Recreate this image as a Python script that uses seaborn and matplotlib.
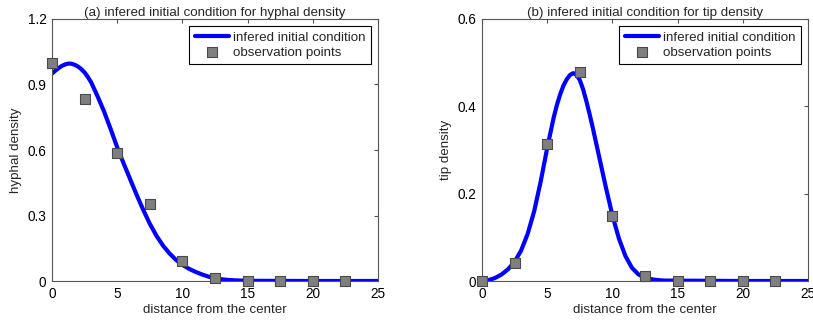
import matplotlib
matplotlib.use("Agg")
import matplotlib.pyplot as plt
import pandas as pd
import seaborn as sns

# Fitted hyphal-density profile (denser sampling around the maximum)
hyphal_curve_x = [0, 0.25, 0.5, 0.75, 1, 1.25, 1.5, 1.75, 2, 2.25, 2.5, 2.75, 3,
                  3.5, 4, 4.5, 5, 5.5, 6, 6.5, 7, 7.5, 8, 8.5, 9, 9.5, 10, 10.5,
                  11, 11.5, 12, 12.5, 13, 13.5, 14, 14.5, 15, 20, 25]
hyphal_curve = [0.950, 0.963, 0.975, 0.985, 0.992, 0.996, 0.995, 0.990, 0.982,
                0.970, 0.955, 0.934, 0.910,
                0.845, 0.775, 0.695, 0.612, 0.537, 0.465, 0.393, 0.325, 0.262,
                0.208, 0.163, 0.127, 0.097, 0.074, 0.056, 0.042, 0.030, 0.020,
                0.013, 0.008, 0.005, 0.003, 0.002, 0.001, 0.0, 0.0]

# Fitted tip-density profile (denser sampling around the maximum)
tip_curve_x = [0, 0.5, 1, 1.5, 2, 2.5, 3, 3.5, 4, 4.5, 5,
               5.5, 5.75, 6, 6.25, 6.5, 6.75, 7, 7.25, 7.5, 7.75, 8, 8.25, 8.5,
               9, 9.5, 10, 10.5, 11, 11.5, 12, 12.5, 13, 13.5, 14, 20, 25]
tip_curve = [0.000, 0.002, 0.007, 0.015, 0.027, 0.044, 0.070, 0.108, 0.160,
             0.228, 0.305,
             0.375, 0.404, 0.428, 0.448, 0.462, 0.472, 0.476, 0.472, 0.460,
             0.439, 0.412, 0.382, 0.350,
             0.282, 0.214, 0.150, 0.097, 0.057, 0.030, 0.015, 0.008, 0.004,
             0.002, 0.001, 0.0, 0.0]

# Measured observation points
obs_x = [0, 2.5, 5, 7.5, 10, 12.5, 15, 17.5, 20, 22.5]
hyphal_obs = [1.0, 0.833, 0.585, 0.352, 0.092, 0.012, 0.0, 0.0, 0.0, 0.0]
tip_obs = [0.0, 0.042, 0.313, 0.478, 0.150, 0.011, 0.0, 0.0, 0.0, 0.0]

titles = ["(a) infered initial condition for hyphal density",
          "(b) infered initial condition for tip density"]
ylabels = ["hyphal density", "tip density"]
xticks = [0, 5, 10, 15, 20, 25]
yticks_a = [0, 0.3, 0.6, 0.9, 1.2]
yticklabels_a = ["0", "0.3", "0.6", "0.9", "1.2"]
yticks_b = [0, 0.2, 0.4, 0.6]
yticklabels_b = ["0", "0.2", "0.4", "0.6"]

sns.set_style("white")
plt.rcParams["font.family"] = ["Liberation Sans", "DejaVu Sans"]

fig = plt.figure(figsize=(8.13, 3.23), dpi=100)
axes = [fig.add_axes([0.0640, 0.1300, 0.4010, 0.8112]),
        fig.add_axes([0.5929, 0.1300, 0.4010, 0.8112])]

panels = [
    (hyphal_curve_x, hyphal_curve, hyphal_obs, yticks_a, yticklabels_a, 1.2),
    (tip_curve_x, tip_curve, tip_obs, yticks_b, yticklabels_b, 0.6),
]

for ax, (cx, cy, obs, yt, ytl, ymax), title, ylab in zip(axes, panels, titles, ylabels):
    df_curve = pd.DataFrame({"x": cx, "y": cy})
    df_obs = pd.DataFrame({"x": obs_x, "y": obs})
    sns.lineplot(data=df_curve, x="x", y="y", ax=ax, color=(0, 0, 1),
                 linewidth=3.0, label="infered initial condition", zorder=2)
    sns.scatterplot(data=df_obs, x="x", y="y", ax=ax, marker="s", s=58,
                    color="#7f7f7f", edgecolor="#4a4a4a", linewidth=0.8,
                    label="observation points", zorder=4, clip_on=False)
    ax.set_xlim(0, 25)
    ax.set_ylim(0, ymax)
    ax.set_xticks(xticks)
    ax.set_xticklabels([str(t) for t in xticks])
    ax.set_yticks(yt)
    ax.set_yticklabels(ytl)
    ax.tick_params(direction="in", length=3, width=0.8, color="#555555",
                   top=True, right=True, labelsize=9.8, pad=4, labelcolor="black")
    for sp in ax.spines.values():
        sp.set_visible(True)
        sp.set_color("#555555")
        sp.set_linewidth(0.8)
    ax.set_xlabel("distance from the center", fontsize=9.6, labelpad=2.5)
    ax.set_ylabel(ylab, fontsize=9.6, labelpad=4)
    ax.set_title(title, fontsize=9.6, pad=2.5)
    leg = ax.legend(loc="upper right", fontsize=9.6, frameon=True, fancybox=False,
                    framealpha=1, edgecolor="black", handlelength=2.6,
                    handletextpad=0.3, labelspacing=0.2, borderpad=0.42,
                    borderaxespad=0.5)
    leg.get_frame().set_linewidth(0.8)

fig.savefig("out.png", dpi=100)
